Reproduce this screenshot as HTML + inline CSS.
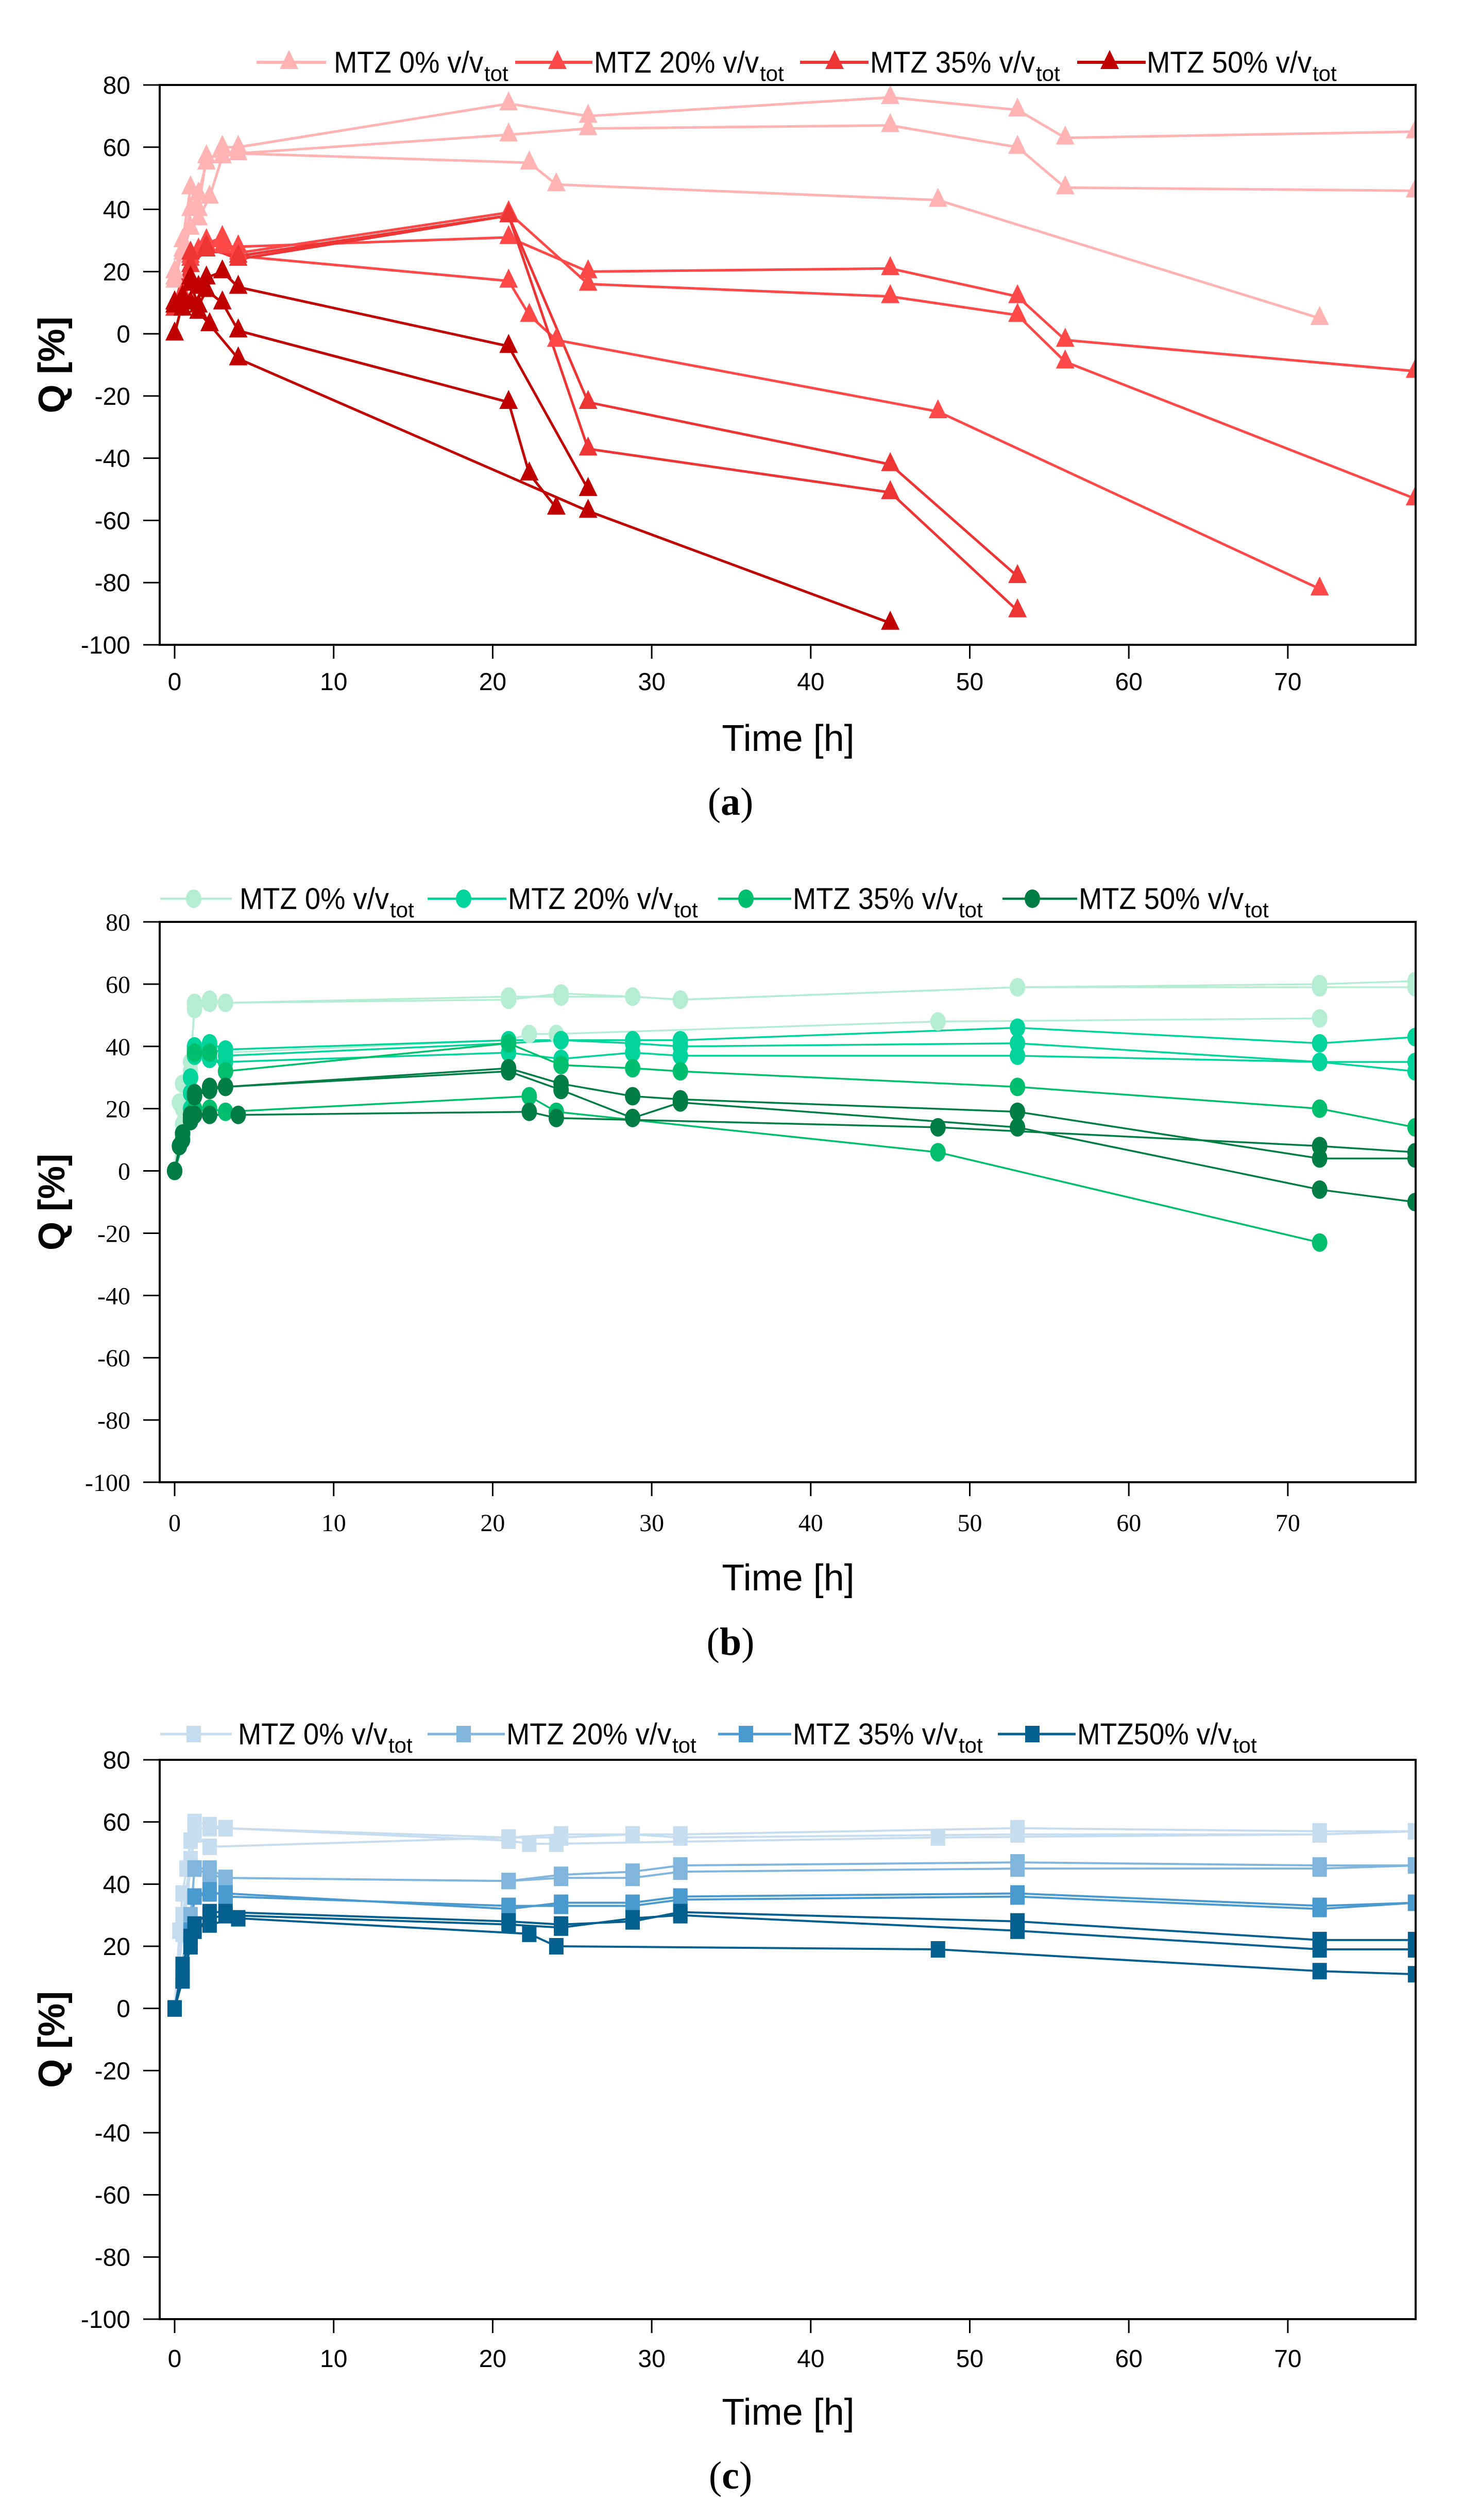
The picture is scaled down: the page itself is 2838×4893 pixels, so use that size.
<!DOCTYPE html>
<html><head><meta charset="utf-8">
<style>
html,body{margin:0;padding:0;background:#fff;}
svg{display:block;}
</style></head>
<body>
<svg id="fig" width="2838" height="4893" viewBox="0 0 2838 4893" xmlns="http://www.w3.org/2000/svg"></svg>
<script>
// ---------- DATA ----------
// Panel (a) — triangles
const aTimes = [
 [0,0.5,1,1.5,2,3,4,21,26,45,53,56,78],
 [0,0.5,1,1.5,2,3,4,21,26,45,53,56,78],
 [0,0.5,1,1.5,2.2,3,4,22.3,24,48,72],
 [0,0.5,1,1.5,2,3,4,21,26,45,53,56,78],
 [0,1,2,3,4,21,22.3,24,48,72],
 [0,1,2,3,4,21,26,45,53,56,78],
 [0,1,2,4,21,26,45,53],
 [0,1,2,4,21,26,45,53],
 [0,0.5,1,1.5,2,3,4,21,26],
 [0,0.5,1,1.5,2,3,4,21,22.3,24],
 [0,0.5,1,1.5,2.2,4,26,45]
];
const aValues = [
 [17,27,40,45,55,60,60,74,70,76,72,63,65],
 [20,30,47,40,57,57,58,64,66,67,60,47,46],
 [18,26,34,37,44,57,58,55,48,43,5],
 [8,13,24,27,30,28,28,31,20,21,12,-2,-12],
 [10,22,28,30,25,17,6,-2,-25,-82],
 [9,25,29,31,26,39,16,12,6,-9,-53],
 [10,26,28,24,38,-22,-42,-78],
 [8,22,27,25,38,-37,-51,-89],
 [0,10,18,15,18,20,15,-4,-50],
 [10,12,16,9,14,10,1,-22,-45,-56],
 [9,8,10,7,3,-8,-57,-93]
];
const aGroup = [0,0,0,1,1,1,2,2,3,3,3];

// Panel (b) — circles
const bTimes = [
 [0,0.3,0.5,1,1.25,2.2,3.2,21,24.3,28.8,31.8,53,72,78],
 [0,0.5,1,1.25,2.2,3.2,21,24.3,28.8,31.8,53,72,78],
 [0,0.5,1,1.25,2.2,3.2,21,22.3,24,48,72],
 [0,0.5,1,1.25,2.2,3.2,21,24.3,28.8,31.8,53,72,78],
 [0,1,1.25,2.2,3.2,21,24.3,28.8,31.8,53,72,78],
 [0,1,1.25,2.2,3.2,21,24.3,28.8,31.8,53,72,78],
 [0,1,1.25,2.2,3.2,21,24.3,28.8,31.8,53,72,78],
 [0,1,1.25,2.2,3.2,22.3,24,48,72],
 [0,0.3,0.5,1,1.25,2.2,3.2,21,24.3,28.8,31.8,53,72,78],
 [0,0.5,1,1.25,2.2,3.2,21,24.3,28.8,31.8,53,72,78],
 [0,0.5,1,1.25,2.2,4,22.3,24,48,72,78]
];
const bValues = [
 [0,22,28,35,52,54,54,56,56,56,55,59,60,61],
 [0,20,32,54,55,54,55,57,56,55,59,59,59],
 [0,15,30,40,41,38,42,44,44,48,49],
 [0,12,30,40,41,39,42,42,42,42,46,41,43],
 [0,25,39,40,37,41,42,41,40,41,35,35],
 [0,20,37,36,35,38,36,38,37,37,35,32],
 [0,18,38,38,32,41,34,33,32,27,20,14],
 [0,17,20,20,19,24,19,6,-23],
 [0,8,12,17,25,27,27,33,28,24,23,19,4,4],
 [0,10,16,24,26,27,32,26,17,22,14,-6,-10],
 [0,12,18,18,18,18,19,17,14,8,6]
];
const bGroup = [0,0,0,1,1,1,2,2,3,3,3];

// Panel (c) — squares
const cTimes = [
 [0,0.3,0.5,0.75,1,1.25,2.2,3.2,21,24.3,28.8,31.8,53,72,78],
 [0,0.5,1,1.25,2.2,3.2,21,22.3,24,48,72,78],
 [0,0.5,1,1.25,2.2,21,24.3,28.8,31.8,53,72,78],
 [0,1,1.25,2.2,3.2,21,24.3,28.8,31.8,53,72,78],
 [0,1,1.25,2.2,3.2,21,24.3,28.8,31.8,53,72,78],
 [0,1,1.25,2.2,3.2,21,24.3,28.8,31.8,53,72,78],
 [0,1,1.25,2.2,3.2,21,24.3,28.8,31.8,53,72,78],
 [0,0.5,1,1.25,2.2,3.2,21,24.3,28.8,31.8,53,72,78],
 [0,0.5,1,1.25,2.2,3.2,21,24.3,28.8,31.8,53,72,78],
 [0,0.5,1,1.25,2.2,4,22.3,24,48,72,78]
];
const cValues = [
 [0,25,37,45,54,60,59,58,55,56,56,56,58,57,57],
 [0,30,48,58,58,58,54,53,53,55,56,57],
 [0,24,45,56,52,55,55,56,55,56,56,57],
 [0,30,45,45,42,41,43,44,46,47,46,46],
 [0,28,45,43,42,41,42,42,44,45,45,46],
 [0,25,36,37,37,32,34,34,36,37,33,34],
 [0,24,36,38,36,33,33,33,35,36,32,34],
 [0,14,23,27,31,31,28,27,28,31,28,22,22],
 [0,9,20,25,29,30,27,26,29,30,25,19,19],
 [0,10,21,26,27,29,24,20,19,12,11]
];
const cGroup = [0,0,0,1,1,2,2,3,3,3];

const xTicks = [0,10,20,30,40,50,60,70];
const yTicks = [80,60,40,20,0,-20,-40,-60,-80,-100];
const legendLabelsA = ["MTZ 0% v/v","MTZ 20% v/v","MTZ 35% v/v","MTZ 50% v/v"];
const legendLabelsC = ["MTZ 0% v/v","MTZ 20% v/v","MTZ 35% v/v","MTZ50% v/v"];

// ---------- DRAWING ----------
const NS = "http://www.w3.org/2000/svg";
const svg = document.getElementById('fig');
function mk(tag, attrs, parent){
  const e = document.createElementNS(NS, tag);
  for (const k in attrs) e.setAttribute(k, attrs[k]);
  (parent||svg).appendChild(e);
  return e;
}
const X0 = 339, PXH = 30.87, LEFT = 310, RIGHT = 2748;
function xs(t){ return X0 + t*PXH; }

function marker(g, shape, x, y, color){
  let m;
  if (shape === 'tri') {
    m = mk('polygon', {points:`${x},${y-24} ${x-18},${y+13} ${x+18},${y+13}`, fill:color}, g);
  } else if (shape === 'circ') {
    m = mk('ellipse', {cx:x, cy:y, rx:15, ry:18, fill:color}, g);
  } else {
    m = mk('rect', {x:x-14, y:y-16, width:28, height:32, fill:color}, g);
  }
  return m;
}

function panel(opt){
  const top = opt.top, bot = opt.bot;
  const ys = v => top + (80 - v) * (bot - top) / 180;
  const g = mk('g', {});
  
  
  const tickFont = opt.serif ? '"Liberation Serif", serif' : '"Liberation Sans", sans-serif';

  const clipId = opt.name + '-clip';
  const cp = mk('clipPath', {id: clipId}, g);
  mk('rect', {x:LEFT, y:top-40, width:RIGHT-LEFT+2, height:bot-top+40}, cp);

  const sg = mk('g', {'clip-path':`url(#${clipId})`}, g);
  
  
  opt.times.forEach((ts, i) => {
    const col = opt.colors[opt.group[i]];
    const pts = ts.map((t, j) => xs(t) + ',' + ys(opt.values[i][j])).join(' ');
    const pl = mk('polyline', {points: pts, fill:'none', stroke: col, 'stroke-width': opt.lw, 'stroke-linejoin':'round'}, sg);
    
    
  });
  opt.times.forEach((ts, i) => {
    const col = opt.colors[opt.group[i]];
    ts.forEach((t, j) => {
      const m = marker(sg, opt.shape, xs(t), ys(opt.values[i][j]), col);
      
      
    });
  });

  const box = mk('rect', {x:LEFT, y:top, width:RIGHT-LEFT, height:bot-top, fill:'none', stroke:'#000', 'stroke-width':4}, g);
  
  

  yTicks.forEach(v => {
    const y = ys(v);
    const tk = mk('line', {x1:LEFT-32, x2:LEFT, y1:y, y2:y, stroke:'#000', 'stroke-width':3}, g);
    
    
    const tx = mk('text', {x:253, y:y+17, 'text-anchor':'end', 'font-size':48, 'font-family':tickFont, fill:'#000'}, g);
    tx.textContent = v;
    
    
  });
  xTicks.forEach(t => {
    const x = xs(t);
    const tk = mk('line', {x1:x, x2:x, y1:bot, y2:bot+27, stroke:'#000', 'stroke-width':3}, g);
    
    
    const tx = mk('text', {x:x, y:opt.xlabY+18, 'text-anchor':'middle', 'font-size':48, 'font-family':tickFont, fill:'#000'}, g);
    tx.textContent = t;
    
    
  });

  const xt = mk('text', {x:1530, y:opt.timeY+26, 'text-anchor':'middle', 'font-size':72, 'font-family':'"Liberation Sans", sans-serif', fill:'#000'}, g);
  xt.textContent = 'Time [h]';
  
  
  const cy = (top + bot) / 2;
  const yt = mk('text', {x:100, y:cy, 'text-anchor':'middle', 'font-size':72, 'font-weight':'bold', 'font-family':'"Liberation Sans", sans-serif', fill:'#000', transform:`rotate(-90 100 ${cy}) translate(0 25)`}, g);
  yt.textContent = 'Q [%]';
  
  

  const cap = mk('text', {x:1418, y:opt.capY+24, 'text-anchor':'middle', 'font-size':76, 'font-family':'"Liberation Serif", serif', fill:'#000'}, g);
  
  
  const c1 = mk('tspan', {}, cap); c1.textContent = '(';
  const c2 = mk('tspan', {'font-weight':'bold'}, cap); c2.textContent = opt.letter;
  const c3 = mk('tspan', {}, cap); c3.textContent = ')';

  const ly = opt.legY;
  opt.legend.forEach((it, k) => {
    const lg = mk('g', {}, g);
    
    
    mk('line', {x1:it.l0, x2:it.l1, y1:ly, y2:ly, stroke:opt.colors[k], 'stroke-width':opt.lw+1}, lg);
    marker(lg, opt.shape, it.m, ly, opt.colors[k]);
    const tx = mk('text', {x:it.t, y:ly+20, 'font-size':58, 'font-family':'"Liberation Sans", sans-serif', fill:'#000', textLength: it.w, lengthAdjust:'spacingAndGlyphs'}, lg);
    tx.textContent = opt.labels[k];
    const sub = mk('text', {x:it.t + it.w + 2, y:ly+36, 'font-size':42, 'font-family':'"Liberation Sans", sans-serif', fill:'#000'}, lg);
    sub.textContent = 'tot';
  });
}

panel({name:'panel-a', letter:'a', top:165, bot:1252, shape:'tri', lw:5, serif:false,
  colors:['#ffb3b3','#ff4848','#ee3535','#c00000'],
  times:aTimes, values:aValues, group:aGroup, labels:legendLabelsA,
  xlabY:1322, timeY:1432, capY:1558, legY:121,
  legend:[{l0:498,l1:633,m:561,t:648,w:290},{l0:1000,l1:1150,m:1082,t:1153,w:320},{l0:1553,l1:1686,m:1620,t:1689,w:320},{l0:2091,l1:2224,m:2154,t:2226,w:320}]});

panel({name:'panel-b', letter:'b', top:1790, bot:2878, shape:'circ', lw:3.5, serif:true,
  colors:['#b4ecd4','#00d49a','#00bf6c','#007d45'],
  times:bTimes, values:bValues, group:bGroup, labels:legendLabelsA,
  xlabY:2955, timeY:3062, capY:3189, legY:1745,
  legend:[{l0:311,l1:450,m:376,t:465,w:290},{l0:830,l1:983,m:900,t:986,w:320},{l0:1394,l1:1536,m:1448,t:1539,w:320},{l0:1946,l1:2091,m:2004,t:2094,w:320}]});

panel({name:'panel-c', letter:'c', top:3417, bot:4503, shape:'sq', lw:4, serif:false,
  colors:['#c6dcef','#80b6de','#4a9ad0','#05608f'],
  times:cTimes, values:cValues, group:cGroup, labels:legendLabelsC,
  xlabY:4578, timeY:4682, capY:4808, legY:3367,
  legend:[{l0:311,l1:450,m:376,t:462,w:290},{l0:830,l1:980,m:900,t:983,w:320},{l0:1394,l1:1536,m:1448,t:1539,w:320},{l0:1937,l1:2088,m:2004,t:2091,w:300}]});
</script>
</body></html>
